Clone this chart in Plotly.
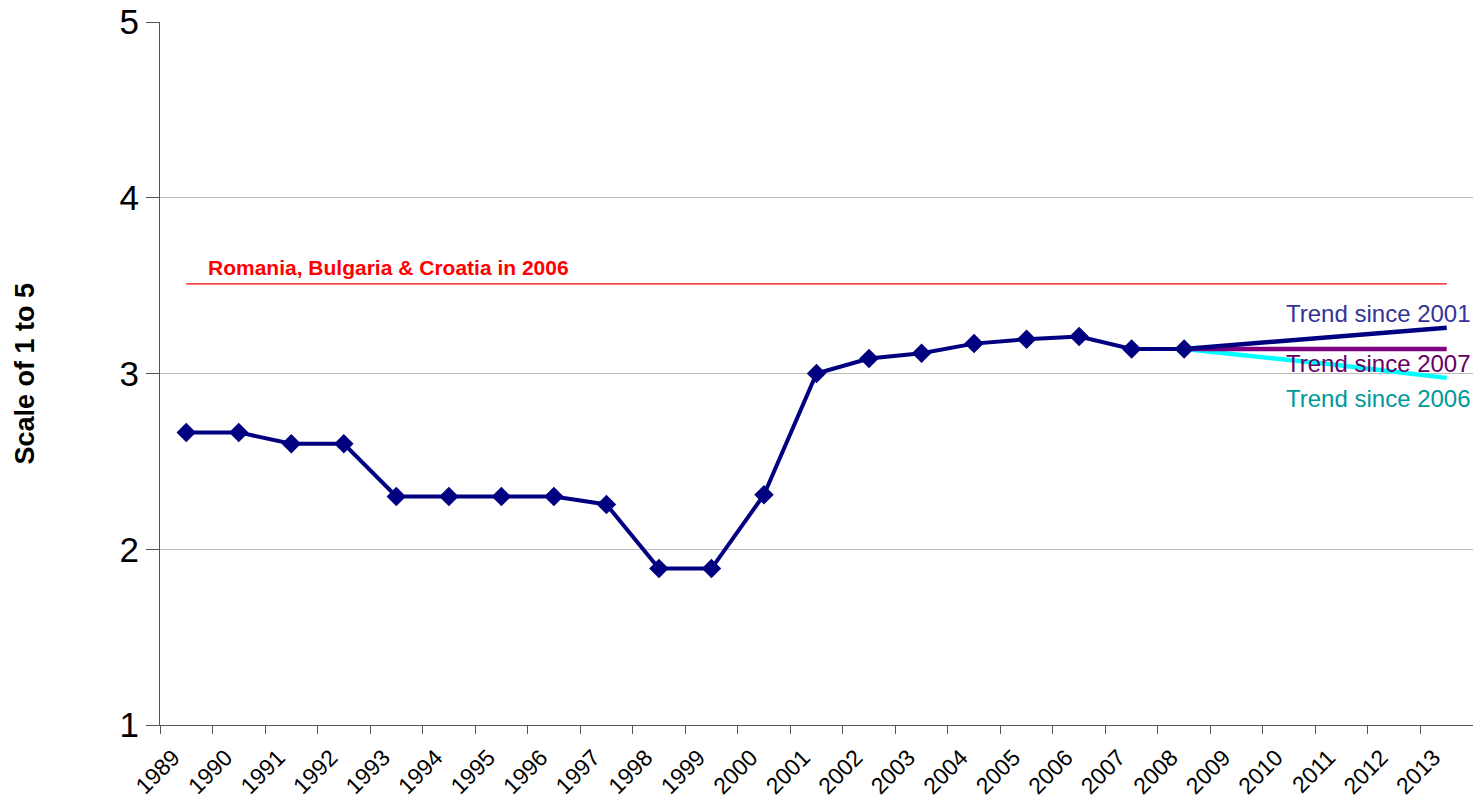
import plotly.graph_objects as go

years = [str(y) for y in range(1989, 2014)]
scores = [2.665, 2.665, 2.60, 2.60, 2.30, 2.30, 2.30, 2.30, 2.255, 1.89, 1.89, 2.31,
          3.00, 3.085, 3.115, 3.17, 3.195, 3.21, 3.14, 3.14]
score_years = years[:20]

trend_years = years[19:]
trend_2001 = [3.14, 3.165, 3.19, 3.21, 3.235, 3.26]
trend_2007 = [3.14, 3.14, 3.14, 3.14, 3.14, 3.14]
trend_2006 = [3.14, 3.11, 3.075, 3.045, 3.01, 2.975]

ref_level = 3.51
ref_label = "Romania, Bulgaria &amp; Croatia in 2006"

font = "Liberation Sans, Arial, sans-serif"

fig = go.Figure()
fig.add_trace(go.Scatter(x=[years[0], years[-1]], y=[ref_level, ref_level], mode="lines",
                         line=dict(color="#FF0000", width=1.2), hoverinfo="skip"))
fig.add_trace(go.Scatter(x=trend_years, y=trend_2006, mode="lines",
                         line=dict(color="#00FFFF", width=4.5)))
fig.add_trace(go.Scatter(x=trend_years, y=trend_2007, mode="lines",
                         line=dict(color="#800080", width=4.5)))
fig.add_trace(go.Scatter(x=trend_years, y=trend_2001, mode="lines",
                         line=dict(color="#000080", width=4.5)))
fig.add_trace(go.Scatter(x=score_years, y=scores, mode="lines+markers",
                         line=dict(color="#000080", width=4),
                         marker=dict(symbol="diamond", size=15, color="#000080")))

# category index 0 = first year
fig.add_annotation(x=0, y=ref_level, text="<b>" + ref_label + "</b>", showarrow=False,
                   xanchor="left", yanchor="bottom", xshift=20, yshift=3,
                   font=dict(family=font, size=21, color="#FF0000"))
fig.add_annotation(x=1, xref="paper", y=trend_2001[-1], text="Trend since 2001", showarrow=False,
                   xanchor="right", yanchor="middle", xshift=0, yshift=14,
                   font=dict(family=font, size=24, color="#333399"))
fig.add_annotation(x=1, xref="paper", y=trend_2007[-1], text="Trend since 2007", showarrow=False,
                   xanchor="right", yanchor="middle", xshift=0, yshift=-15,
                   font=dict(family=font, size=24, color="#660066"))
fig.add_annotation(x=1, xref="paper", y=trend_2006[-1], text="Trend since 2006", showarrow=False,
                   xanchor="right", yanchor="middle", xshift=0, yshift=-21,
                   font=dict(family=font, size=24, color="#009999"))
fig.add_annotation(x=0, xref="paper", y=0.5, yref="paper", text="<b>Scale of 1 to 5</b>",
                   showarrow=False, textangle=-90, xanchor="center", yanchor="middle",
                   xshift=-136, font=dict(family=font, size=27, color="black"))

fig.update_layout(
    width=1465, height=794, showlegend=False,
    paper_bgcolor="white", plot_bgcolor="white",
    margin=dict(l=152, r=0, t=14, b=77),
    font=dict(family=font, color="black"),
)
fig.update_xaxes(type="category", categoryorder="array", categoryarray=years,
                 range=[-0.5, len(years) - 0.5], automargin=False,
                 tickmode="array", tickvals=years, ticktext=years,
                 tickson="boundaries", ticks="outside", ticklen=8, tickcolor="#555555",
                 tickangle=-45, tickfont=dict(size=23, family=font),
                 ticklabelstandoff=9, ticklabelshift=-13, ticklabeloverflow="allow",
                 showline=True, linecolor="#555555", linewidth=1,
                 showgrid=False, zeroline=False)
fig.update_yaxes(range=[1, 5], tickvals=[1, 2, 3, 4, 5], ticks="outside", ticklen=13,
                 automargin=False, ticklabeloverflow="allow",
                 tickcolor="#555555", tickfont=dict(size=35, family=font),
                 showline=True, linecolor="#555555", linewidth=1,
                 showgrid=True, gridcolor="#BBBBBB", gridwidth=1, zeroline=False)

fig.write_html("out.html")
